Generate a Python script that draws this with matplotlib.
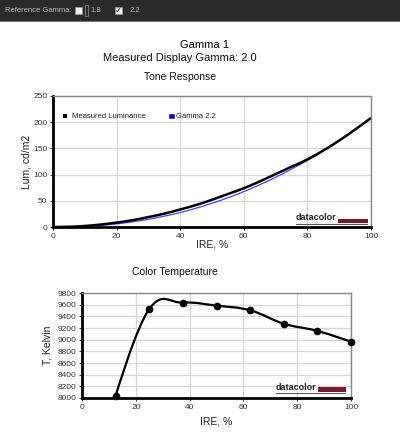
import numpy as np
import matplotlib
matplotlib.use("Agg")
import matplotlib.pyplot as plt
from matplotlib.path import Path
from matplotlib.patches import PathPatch, Rectangle

plt.rcParams['font.family'] = ['Liberation Sans', 'DejaVu Sans']

# tone response data
ire = [0, 5, 10, 15, 20, 25, 30, 35, 40, 45, 50, 55, 60, 65, 70, 75, 80, 85, 90, 95, 100]
measured_lum = [0, 0.5, 2, 4.7, 8.5, 13, 19, 25.5, 33.5, 42, 52, 63, 74, 87, 101, 115, 129, 146, 165, 186, 208]
gamma22_lum = [0, 0.3, 1.3, 3.2, 6, 9.9, 14.7, 20.7, 27.6, 35.9, 45.3, 55.8, 67.6, 80.6, 94.9, 110.5, 127.3, 145.5, 165, 185.8, 208]

# color temperature data
ct_ire = [12.5, 25, 37.5, 50, 62.5, 75, 87.5, 100]
ct_kelvin = [8035, 9525, 9635, 9583, 9503, 9274, 9150, 8965]

x_ticks = [0, 20, 40, 60, 80, 100]
lum_ticks = [0, 50, 100, 150, 200, 250]
kelvin_ticks = list(range(8000, 9801, 200))


def spline_path(xs, ys, smoothing=1.5):
    # bezier spline through the points (charting-library style)
    n = len(xs)
    denom = smoothing + 1
    left = [(xs[i], ys[i]) for i in range(n)]
    right = [(xs[i], ys[i]) for i in range(n)]
    for i in range(1, n - 1):
        x, y = xs[i], ys[i]
        lx = (smoothing * x + xs[i - 1]) / denom
        ly = (smoothing * y + ys[i - 1]) / denom
        rx = (smoothing * x + xs[i + 1]) / denom
        ry = (smoothing * y + ys[i + 1]) / denom
        corr = (ry - ly) * (rx - x) / (rx - lx) + y - ry
        left[i] = (lx, ly + corr)
        right[i] = (rx, ry + corr)
    verts = [(xs[0], ys[0])]
    codes = [Path.MOVETO]
    for i in range(1, n):
        verts += [right[i - 1], left[i], (xs[i], ys[i])]
        codes += [Path.CURVE4] * 3
    return Path(verts, codes)


def style_axes(ax):
    ax.set_facecolor('white')
    for s in ['left', 'bottom']:
        ax.spines[s].set_color('black')
        ax.spines[s].set_linewidth(2)
    for s in ['top', 'right']:
        ax.spines[s].set_color('#888888')
        ax.spines[s].set_linewidth(1)
    ax.grid(True, color='#d6d6d6', linewidth=0.9)
    ax.set_axisbelow(True)
    ax.tick_params(labelsize=6, length=2.5, width=0.7, colors='#333333', pad=1.5)


def logo(ax, x0, x1, xb, y0, y1):
    ax.text(x0, y0 + 0.004, 'datacolor', transform=ax.transAxes, fontsize=6.5,
            fontweight='bold', color='#222222', va='bottom', ha='left')
    ax.add_patch(Rectangle((xb, y0), x1 - xb, y1 - y0, transform=ax.transAxes,
                           color='#7a1a2e', lw=0))
    ax.add_patch(Rectangle((x0, y0 - 0.018), x1 - x0, 0.012, transform=ax.transAxes,
                           color='#555555', lw=0))


fig = plt.figure(figsize=(4, 4.38), dpi=100)
fig.patch.set_facecolor('white')

# top toolbar
fig.patches.append(Rectangle((0, 1 - 21 / 438), 1, 21 / 438, transform=fig.transFigure,
                             color='#2a2a2a', lw=0))
fig.patches.append(Rectangle((0, 1 - 22 / 438), 1, 1.2 / 438, transform=fig.transFigure,
                             color='#777777', lw=0))
fig.text(5 / 400, 1 - 10.5 / 438, 'Reference Gamma:', fontsize=5.5, color='#bfbfbf', va='center')
fig.patches.append(Rectangle((75 / 400, 1 - 14 / 438), 7 / 400, 7 / 438, transform=fig.transFigure,
                             facecolor='#eeeeee', edgecolor='#999999', lw=0.5))
fig.patches.append(Rectangle((84.5 / 400, 1 - 16 / 438), 3 / 400, 11 / 438, transform=fig.transFigure,
                             facecolor='none', edgecolor='#999999', lw=0.5))
fig.text(90 / 400, 1 - 11 / 438, '1.8', fontsize=5.5, color='#bfbfbf', va='center')
fig.patches.append(Rectangle((115 / 400, 1 - 14 / 438), 7 / 400, 7 / 438, transform=fig.transFigure,
                             facecolor='#eeeeee', edgecolor='#999999', lw=0.5))
fig.text(118.5 / 400, 1 - 10.5 / 438, '\u2713', fontsize=6, color='#1a2a8a', va='center', ha='center',
         family='DejaVu Sans')
fig.text(130 / 400, 1 - 11 / 438, '2.2', fontsize=5.5, color='#bfbfbf', va='center')

# titles
fig.text(204 / 400, 1 - 45 / 438, 'Gamma 1', fontsize=8, ha='center', va='center', color='black')
fig.text(180 / 400, 1 - 58 / 438, 'Measured Display Gamma: 2.0', fontsize=8, ha='center', va='center',
         color='#111111')
fig.text(180 / 400, 1 - 77 / 438, 'Tone Response', fontsize=7.5, ha='center', va='center', color='#111111')
fig.text(175 / 400, 1 - 272 / 438, 'Color Temperature', fontsize=7.5, ha='center', va='center',
         color='#111111')

# tone response chart
ax1 = fig.add_axes([53 / 400, (438 - 227) / 438, 318 / 400, 131 / 438])
style_axes(ax1)
ax1.set_xlim(0, 100)
ax1.set_ylim(0, 250)
ax1.set_xticks(x_ticks)
ax1.set_yticks(lum_ticks)
ax1.add_patch(PathPatch(spline_path(ire, gamma22_lum), fill=False, edgecolor='#4444ee', lw=0.9, zorder=3))
ax1.add_patch(PathPatch(spline_path(ire, measured_lum), fill=False, edgecolor='black', lw=1.8, zorder=4))
ax1.set_xlabel('IRE, %', fontsize=7.5, color='#222222', labelpad=0)
ax1.set_ylabel('Lum, cd/m2', fontsize=7.5, color='#222222', labelpad=1)

ax1.add_patch(Rectangle((0.031, 0.83), 0.014, 0.034, transform=ax1.transAxes, color='black', lw=0))
ax1.text(0.06, 0.847, 'Measured Luminance', transform=ax1.transAxes, fontsize=5.5, va='center',
         color='#222222')
ax1.add_patch(Rectangle((0.365, 0.83), 0.014, 0.034, transform=ax1.transAxes,
                        facecolor='#0000dd', edgecolor='#222222', lw=0.4))
ax1.text(0.387, 0.847, 'Gamma 2.2', transform=ax1.transAxes, fontsize=5.5, va='center', color='#222222')
logo(ax1, 0.764, 0.991, 0.896, 0.031, 0.061)

# color temperature chart
ax2 = fig.add_axes([82 / 400, (438 - 398) / 438, 269 / 400, 105 / 438])
style_axes(ax2)
ax2.set_xlim(0, 100)
ax2.set_ylim(8000, 9800)
ax2.set_xticks(x_ticks)
ax2.set_yticks(kelvin_ticks)
ax2.add_patch(PathPatch(spline_path(ct_ire, ct_kelvin), fill=False, edgecolor='black', lw=1.6, zorder=4))
ax2.plot(ct_ire, ct_kelvin, 'o', color='black', markersize=4.5, zorder=5, clip_on=False)
ax2.set_xlabel('IRE, %', fontsize=7.5, color='#222222', labelpad=4)
ax2.set_ylabel('T, Kelvin', fontsize=7.5, color='#222222', labelpad=4)
logo(ax2, 0.721, 0.981, 0.877, 0.057, 0.102)

fig.savefig('out.png', dpi=100)
